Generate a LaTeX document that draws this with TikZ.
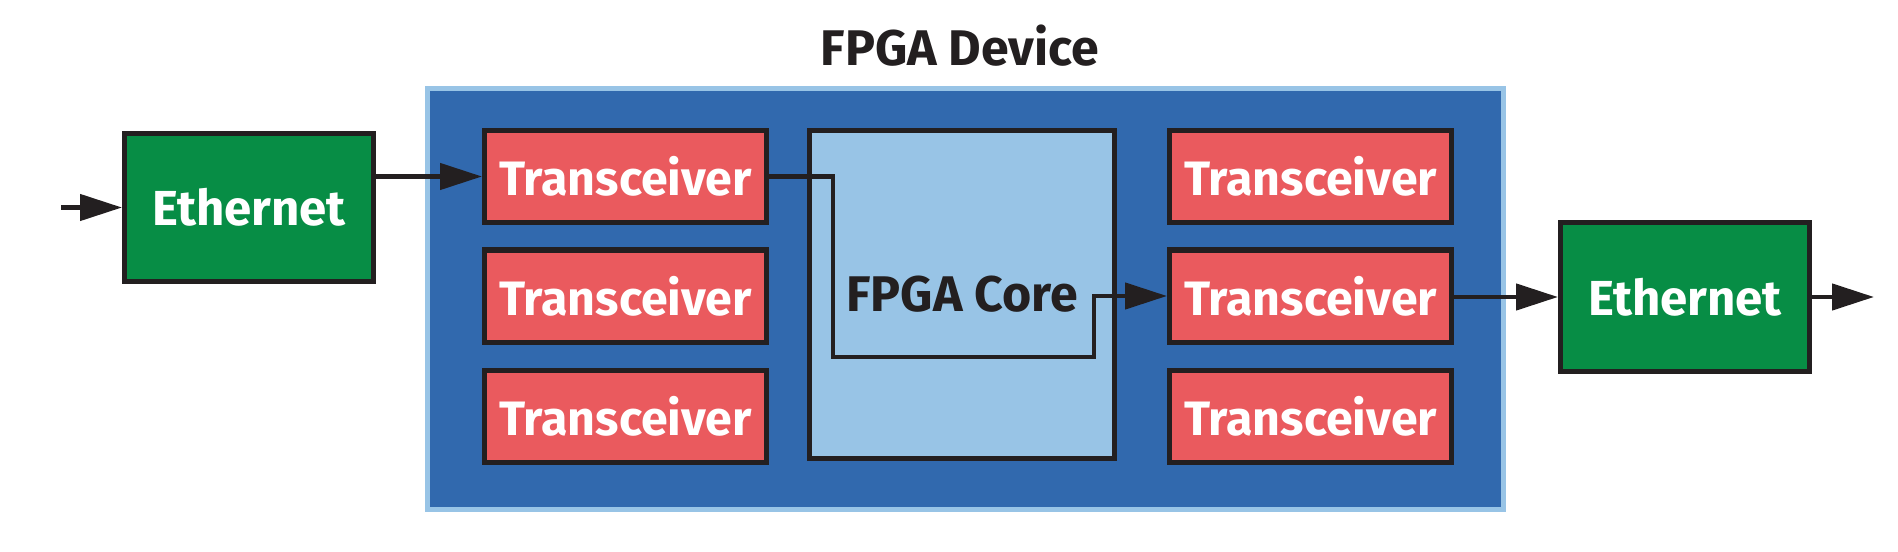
\documentclass[tikz,border=0pt]{standalone}
\usepackage{fontspec}
\setmainfont{Fira Sans}
\usetikzlibrary{arrows.meta}
\definecolor{inkblack}{HTML}{231F20}
\definecolor{devblue}{HTML}{3169AE}
\definecolor{paleblue}{HTML}{98C4E6}
\definecolor{trxred}{HTML}{EA5A5E}
\definecolor{ethgreen}{HTML}{078D45}
\tikzset{
	ethbox/.style = {draw=inkblack, line width=1mm, fill=ethgreen, text=white,
		minimum width=4.98cm, minimum height=2.96cm, font=\fontsize{28}{32}\bfseries\selectfont},
	trxbox/.style = {draw=inkblack, line width=1mm, fill=trxred, text=white,
		minimum width=5.64cm, minimum height=1.84cm, font=\fontsize{27.5}{30}\bfseries\selectfont},
	corebox/.style = {draw=inkblack, line width=1mm, fill=paleblue, text=inkblack,
		minimum width=6.1cm, minimum height=6.56cm, font=\fontsize{28.5}{32}\bfseries\selectfont},
	wire/.style = {draw=inkblack, line width=0.9mm, -{Triangle[length=8.4mm,width=5.2mm]}}
}
\begin{document}
\begin{tikzpicture}
	\useasboundingbox (0,0) rectangle (37.96,11.02);
	\draw [draw=paleblue, fill=devblue, line width=1mm] (8.55,0.83) rectangle (30.07,9.25);
	\node [text=inkblack, font=\fontsize{28.5}{32}\bfseries\selectfont] (title) at (19.2,10.1) {FPGA Device};
	\node [ethbox] (eth1) at (4.98,6.87) {Ethernet};
	\node [ethbox] (eth2) at (33.7,5.08) {Ethernet};
	\node [trxbox] (trx1) at (12.51,7.49) {Transceiver};
	\node [trxbox] (trx2) at (12.51,5.1) {Transceiver};
	\node [trxbox] (trx3) at (12.51,2.7) {Transceiver};
	\node [corebox] (core) at (19.24,5.13) {FPGA Core};
	\node [trxbox] (trx4) at (26.21,7.49) {Transceiver};
	\node [trxbox] (trx5) at (26.21,5.1) {Transceiver};
	\node [trxbox] (trx6) at (26.21,2.7) {Transceiver};
	\coordinate (in) at (1.22,6.87);
	\coordinate (out) at (37.48,5.08);
	\draw [wire] (in) -- (eth1);
	\draw [wire] (eth1.east |- trx1) -- (trx1);
	\draw [wire] (trx1.east) -| (16.66,3.88) -| (21.88,5.1) -- (trx5.west);
	\draw [wire] (trx5.east |- eth2) -- (eth2);
	\draw [wire] (eth2) -- (out);
\end{tikzpicture}
\end{document}
